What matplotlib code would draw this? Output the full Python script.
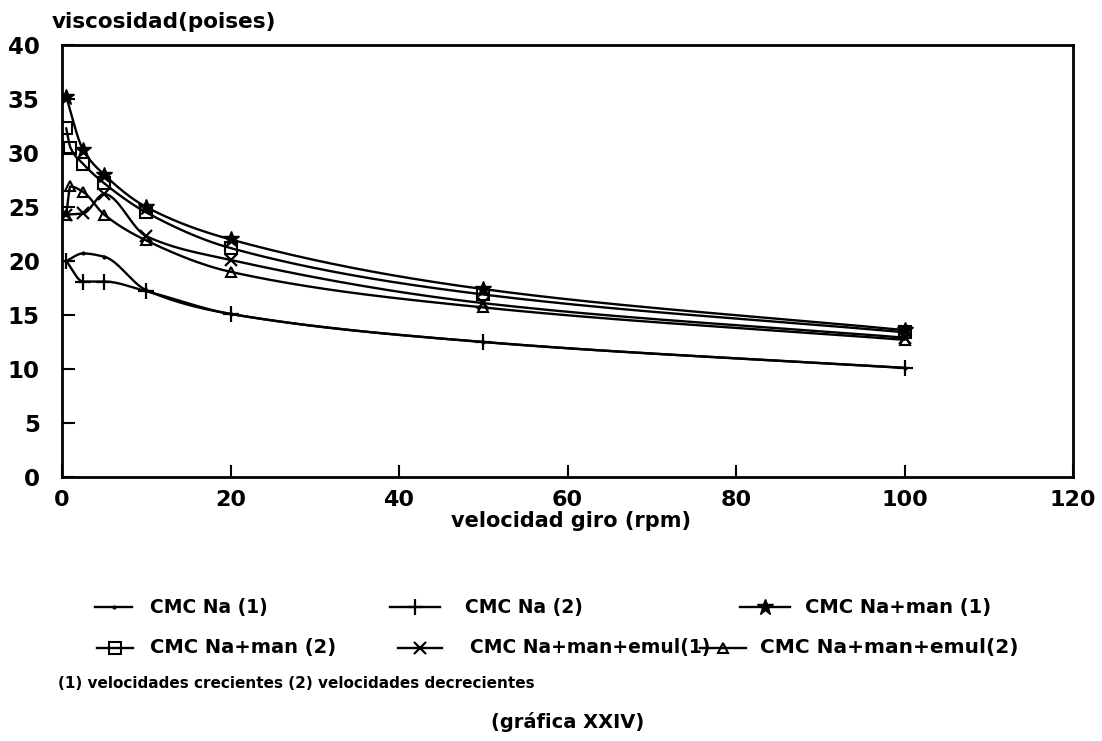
import numpy as np
import matplotlib
matplotlib.use("Agg")
import matplotlib.pyplot as plt
from matplotlib.lines import Line2D

# ---- data ----
rpm_a = [0.5, 2.5, 5, 10, 20, 50, 100]
rpm_b = [0.5, 1, 2.5, 5, 10, 20, 50, 100]

cmc_na_1 = [20.0, 20.7, 20.4, 17.3, 15.1, 12.5, 10.1]
cmc_na_2 = [20.0, 18.1, 18.1, 17.2, 15.1, 12.5, 10.1]
cmc_naman_1 = [35.2, 30.3, 28.0, 25.0, 22.0, 17.4, 13.6]
cmc_naman_2 = [32.3, 30.5, 29.0, 27.2, 24.5, 21.2, 16.9, 13.4]
cmc_emul_1 = [24.3, 24.4, 26.2, 22.3, 20.1, 16.1, 12.9]
cmc_emul_2 = [24.3, 26.9, 26.4, 24.3, 21.9, 19.0, 15.7, 12.7]

labels = ["CMC Na (1)", "CMC Na (2)", "CMC Na+man (1)",
          "CMC Na+man (2)", "CMC Na+man+emul(1)", "CMC Na+man+emul(2)"]

x_ticks = [0, 20, 40, 60, 80, 100, 120]
y_ticks = [0, 5, 10, 15, 20, 25, 30, 35, 40]

title_txt = "viscosidad(poises)"
xlabel_txt = "velocidad giro (rpm)"
note_txt = "(1) velocidades crecientes (2) velocidades decrecientes"
caption_txt = "(gráfica XXIV)"


def smooth(x, y, n=50):
    """monotone cubic (Fritsch-Carlson) rendering of a polyline"""
    x = np.asarray(x, float)
    y = np.asarray(y, float)
    h = np.diff(x)
    d = np.diff(y) / h
    m = np.zeros_like(y)
    for k in range(1, len(x) - 1):
        if d[k - 1] * d[k] > 0:
            w1 = 2 * h[k] + h[k - 1]
            w2 = h[k] + 2 * h[k - 1]
            m[k] = (w1 + w2) / (w1 / d[k - 1] + w2 / d[k])
    m[0] = d[0]
    m[-1] = d[-1]
    xs, ys = [], []
    t = np.linspace(0, 1, n, endpoint=False)
    h00 = 2 * t**3 - 3 * t**2 + 1
    h10 = t**3 - 2 * t**2 + t
    h01 = -2 * t**3 + 3 * t**2
    h11 = t**3 - t**2
    for k in range(len(h)):
        xs.append(x[k] + t * h[k])
        ys.append(h00 * y[k] + h10 * h[k] * m[k] + h01 * y[k + 1] + h11 * h[k] * m[k + 1])
    xs.append([x[-1]])
    ys.append([y[-1]])
    return np.concatenate(xs), np.concatenate(ys)


series = [
    (rpm_a, cmc_na_1, dict(marker='.', ms=4, mfc='black')),
    (rpm_a, cmc_na_2, dict(marker='+', ms=11, mew=1.6)),
    (rpm_a, cmc_naman_1, dict(marker='*', ms=12, mfc='black')),
    (rpm_b, cmc_naman_2, dict(marker='s', ms=8, mfc='none', mew=1.5)),
    (rpm_a, cmc_emul_1, dict(marker='x', ms=9, mew=1.6)),
    (rpm_b, cmc_emul_2, dict(marker='^', ms=7, mfc='none', mew=1.5)),
]

W, H = 1102, 741
fig = plt.figure(figsize=(W / 100, H / 100), dpi=100)
fig.patch.set_facecolor('white')
ax = fig.add_axes([62 / W, 1 - 477 / H, (1073 - 62) / W, (477 - 45) / H])

FONT = 'DejaVu Sans'
handles = []
for xs, ys, mk in series:
    sx, sy = smooth(xs, ys)
    ax.plot(sx, sy, color='black', lw=1.7, solid_capstyle='round')
    ax.plot(xs, ys, linestyle='none', color='black', **mk)
    handles.append(mk)

ax.set_xlim(0, 120)
ax.set_ylim(0, 40)
ax.set_xticks(x_ticks)
ax.set_yticks(y_ticks)
ax.set_xticklabels([str(v) for v in x_ticks], fontsize=16, fontweight='bold', family=FONT)
ax.set_yticklabels([str(v) for v in y_ticks], fontsize=16.5, fontweight='bold', family=FONT)
ax.tick_params(axis='x', direction='in', length=9, width=1.5, pad=9, colors='black')
ax.tick_params(axis='y', direction='in', length=9, width=1.5, pad=16, colors='black')
for s in ax.spines.values():
    s.set_linewidth(2)
    s.set_color('black')

fig.text(52 / W, 1 - 22 / H, title_txt, fontsize=15.5, fontweight='bold',
         family=FONT, ha='left', va='center')
fig.text(571 / W, 1 - 521 / H, xlabel_txt, fontsize=15, fontweight='bold',
         family=FONT, ha='center', va='center')

# ---- legend drawn below the plot ----
leg_pos = [  # (line x0, line x1, text x, y) in pixels
    (95, 132, 150, 607),
    (390, 440, 465, 607),
    (740, 790, 805, 607),
    (97, 133, 150, 648),
    (398, 442, 470, 648),
    (700, 746, 760, 648),
]
leg_fs = [13.5, 13.5, 14, 14, 13.5, 14.5]
for (x0, x1, tx, yy), mk, lab, fs in zip(leg_pos, handles, labels, leg_fs):
    fy = 1 - yy / H
    ln = Line2D([x0 / W, (x0 + x1) / 2 / W, x1 / W], [fy, fy, fy], transform=fig.transFigure,
                color='black', lw=1.7, markevery=[1], **mk)
    fig.add_artist(ln)
    fig.text(tx / W, fy, lab, fontsize=fs, fontweight='bold', family=FONT,
             ha='left', va='center')

fig.text(58 / W, 1 - 683 / H, note_txt, fontsize=11, fontweight='bold',
         family=FONT, ha='left', va='center')
fig.text(568 / W, 1 - 722 / H, caption_txt, fontsize=14, fontweight='bold',
         family=FONT, ha='center', va='center')

fig.savefig('out.png', dpi=100, facecolor='white')
